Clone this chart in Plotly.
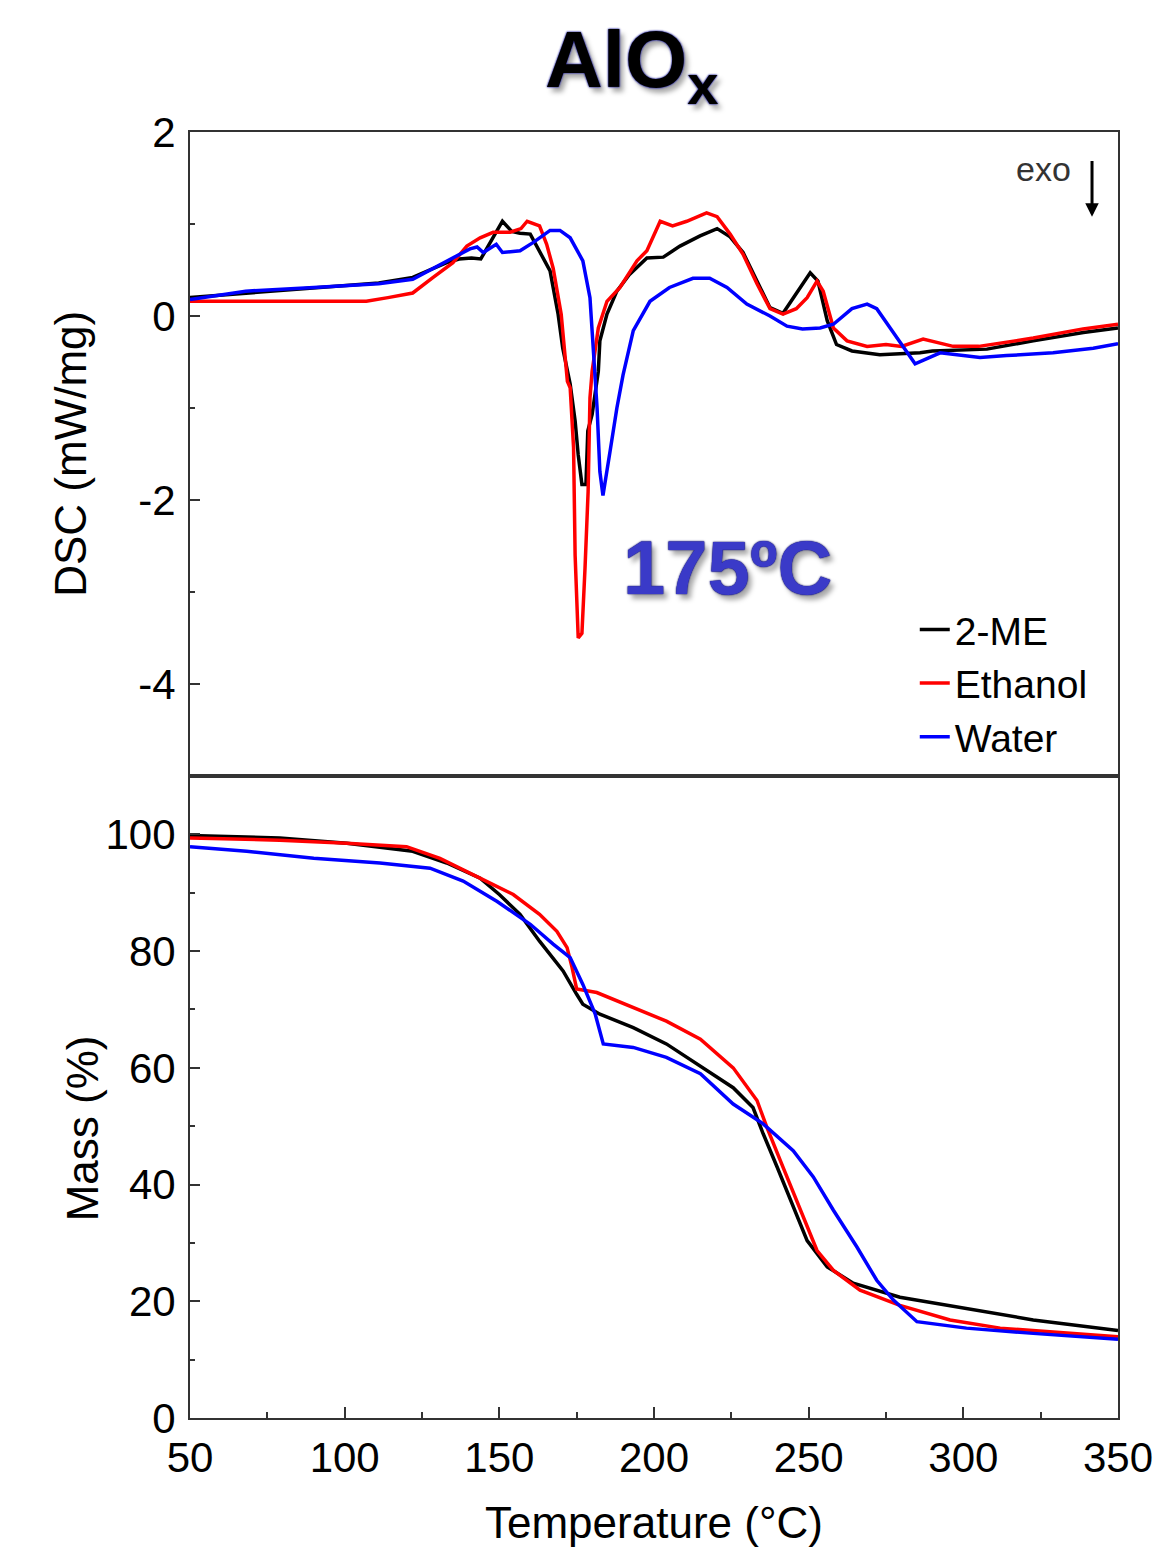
import plotly.graph_objects as go

# ---------------- DATA ----------------
series_names = ["2-ME", "Ethanol", "Water"]
series_colors = ["#000000", "#ff0000", "#0000ff"]

dsc_me_T = [50, 70, 90, 111, 122, 133, 137, 141, 144, 147, 151, 154, 156.7, 160, 163, 166.4, 169, 170.5,
            172.9, 174.5, 175.5, 176.7, 178, 178.6, 180, 182, 182.5, 184.8, 188, 192, 197.7, 203, 208.4,
            214.9, 220.4, 224.6, 228.8, 233.3, 237.5, 241.7, 245, 250.5, 253, 256, 259, 264, 273, 286,
            290, 307.6, 322.6, 338.8, 350]
dsc_me_V = [0.20, 0.25, 0.30, 0.36, 0.42, 0.58, 0.62, 0.63, 0.62, 0.80, 1.03, 0.92, 0.90, 0.89, 0.71, 0.49,
            0.02, -0.35, -0.74, -1.14, -1.51, -1.83, -1.83, -1.25, -1.07, -0.60, -0.27, 0.02, 0.27, 0.45,
            0.63, 0.64, 0.76, 0.87, 0.95, 0.86, 0.69, 0.38, 0.09, 0.03, 0.20, 0.47, 0.38, -0.05, -0.31,
            -0.38, -0.42, -0.40, -0.38, -0.36, -0.27, -0.18, -0.13]

dsc_et_T = [50, 107, 114, 122, 128.6, 135, 139.5, 143.8, 148, 153.5, 157, 159, 163, 165.3, 167.4, 170, 172,
            172.9, 174, 174.5, 175.5, 176.7, 177.7, 178.7, 179.3, 180, 182, 184.8, 189, 194.5, 197.7, 202,
            206, 210.6, 217, 220.4, 224.6, 228.8, 233.3, 237.5, 241.7, 246, 249.5, 252.7, 254.7, 258,
            262.4, 268.9, 275, 280, 287, 296.7, 305, 322.6, 338.7, 350]
dsc_et_V = [0.16, 0.16, 0.20, 0.25, 0.42, 0.58, 0.76, 0.85, 0.91, 0.91, 0.95, 1.03, 0.98, 0.78, 0.52, 0.02,
            -0.71, -0.78, -1.43, -2.6, -3.5, -3.45, -2.74, -1.91, -0.89, -0.60, -0.13, 0.16, 0.31, 0.60,
            0.71, 1.03, 0.98, 1.03, 1.12, 1.08, 0.89, 0.67, 0.35, 0.08, 0.02, 0.08, 0.20, 0.38, 0.27,
            -0.13, -0.27, -0.33, -0.31, -0.33, -0.25, -0.33, -0.33, -0.24, -0.14, -0.09]

dsc_wa_T = [50, 68, 90, 111, 122, 133, 140.5, 142.8, 144.8, 149, 151, 156.7, 161, 166.4, 169.6, 172.9, 177,
            179.3, 181, 181.6, 182.5, 183.5, 185.8, 188, 190, 193.3, 198.7, 205, 212.6, 218, 223.6, 230,
            237.5, 243, 248, 253.7, 258, 264, 268.9, 272, 278.6, 284.4, 292.5, 305.4, 314, 329, 342, 350]
dsc_wa_V = [0.18, 0.27, 0.31, 0.35, 0.40, 0.60, 0.73, 0.75, 0.69, 0.78, 0.69, 0.71, 0.80, 0.93, 0.93, 0.85,
            0.60, 0.20, -0.71, -1.0, -1.69, -1.95, -1.47, -1.0, -0.64, -0.16, 0.16, 0.31, 0.41, 0.41, 0.31,
            0.13, 0.0, -0.11, -0.14, -0.13, -0.09, 0.08, 0.13, 0.08, -0.24, -0.52, -0.40, -0.45, -0.43,
            -0.40, -0.35, -0.30]

tga_me_T = [50, 79, 100.7, 113.7, 122, 133, 143.8, 150, 156.7, 163, 170.6, 175, 177, 182.5, 193.3, 204, 215,
            225.6, 232, 235.3, 239.8, 245, 249.5, 256, 264.4, 279.5, 301, 322.6, 350]
tga_me_V = [99.8, 99.4, 98.5, 97.7, 97.1, 95.1, 92.5, 89.7, 86.3, 81.7, 76.6, 72.6, 70.9, 69.2, 66.9, 64.1,
            60.3, 56.6, 53.2, 48.7, 43.0, 36.1, 30.4, 25.9, 23.1, 20.7, 18.8, 16.8, 15.0]

tga_et_T = [50, 79, 100.7, 120, 130.8, 139.5, 148, 154.5, 163, 168.6, 171.9, 173.5, 175, 181.5, 193.3, 204,
            215, 225.6, 233.3, 236.5, 241.7, 247, 252.7, 258, 266.6, 279.5, 295.7, 311.9, 350]
tga_et_V = [99.4, 99.0, 98.5, 97.9, 95.9, 93.7, 91.4, 89.7, 86.3, 83.4, 80.6, 77.2, 73.5, 72.9, 70.3, 68.0,
            64.9, 60.0, 54.4, 49.8, 43.0, 36.1, 28.7, 25.3, 21.9, 19.3, 16.8, 15.4, 13.9]

tga_wa_T = [50, 68.3, 90, 111.4, 127.6, 138.3, 149.3, 160, 167.4, 172.9, 177, 181, 183.6, 193.3, 204, 215,
            225.6, 235.3, 245, 251.5, 258, 265.6, 272, 277.4, 285, 301, 322.6, 350]
tga_wa_V = [97.9, 97.1, 95.9, 95.1, 94.2, 92.0, 88.5, 84.6, 81.2, 78.9, 74.3, 69.2, 64.1, 63.5, 61.8, 59.0,
            53.8, 50.4, 45.8, 41.3, 35.6, 29.3, 23.6, 20.2, 16.5, 15.4, 14.5, 13.5]

x_ticks = [50, 100, 150, 200, 250, 300, 350]
dsc_ticks = [-4, -2, 0, 2]
dsc_ticktext = ["-4", "-2", "0", "2"]
mass_ticks = [0, 20, 40, 60, 80, 100]

# ---------------- FIGURE ----------------
FONT = "Arial, Liberation Sans, sans-serif"
fig = go.Figure()

dsc = [(dsc_me_T, dsc_me_V), (dsc_et_T, dsc_et_V), (dsc_wa_T, dsc_wa_V)]
tga = [(tga_me_T, tga_me_V), (tga_et_T, tga_et_V), (tga_wa_T, tga_wa_V)]

for (t, v), name, col in zip(dsc, series_names, series_colors):
    fig.add_trace(go.Scatter(x=t, y=v, mode="lines", name=name, line=dict(color=col, width=3.5),
                             xaxis="x2", yaxis="y2", showlegend=True))
for (t, v), name, col in zip(tga, series_names, series_colors):
    fig.add_trace(go.Scatter(x=t, y=v, mode="lines", name=name, line=dict(color=col, width=3.5),
                             xaxis="x", yaxis="y", showlegend=False))

axis_common = dict(showline=True, linecolor="#333333", linewidth=2, mirror=True,
                   showgrid=False, zeroline=False, tickcolor="#333333", tickwidth=2, automargin=False,
                   tickfont=dict(family=FONT, size=42, color="black"))

fig.update_layout(
    width=1157, height=1550,
    margin=dict(l=190, r=39, t=132, b=132, autoexpand=False),
    paper_bgcolor="white", plot_bgcolor="white",
    font=dict(family=FONT, color="black"),
    xaxis=dict(domain=[0, 1], range=[50, 350], tickvals=x_ticks, ticks="inside", ticklen=11,
               ticklabelstandoff=2,
               minor=dict(dtick=25, tick0=50, ticks="inside", ticklen=6, tickcolor="#333333", tickwidth=2),
               anchor="y", **axis_common),
    yaxis=dict(domain=[0, 0.4992], range=[0, 110], tickvals=mass_ticks, ticks="inside", ticklen=10,
               ticklabelstandoff=4,
               minor=dict(dtick=10, tick0=0, ticks="inside", ticklen=5, tickcolor="#333333", tickwidth=2),
               anchor="x", **axis_common),
    xaxis2=dict(domain=[0, 1], range=[50, 350], matches="x", showticklabels=False, ticks="",
                anchor="y2", **axis_common),
    yaxis2=dict(domain=[0.4992, 1], range=[-5, 2], tickvals=dsc_ticks, ticktext=dsc_ticktext,
                ticks="inside", ticklen=10, ticklabelstandoff=4,
                minor=dict(dtick=1, tick0=0, ticks="inside", ticklen=5, tickcolor="#333333", tickwidth=2),
                anchor="x2", **axis_common),
    legend=dict(x=0.781, xanchor="left", y=0.638, yanchor="top", bgcolor="rgba(0,0,0,0)",
                font=dict(family=FONT, size=39, color="black"), tracegroupgap=0),
    showlegend=True,
)

annotations = [
    dict(text="AlO<sub>x</sub>", xref="paper", yref="paper", x=0.476, y=1.052, showarrow=False,
         xanchor="center", yanchor="middle",
         font=dict(family=FONT, size=80, color="black", weight="bold",
                   shadow="0px 0px 2px #2a2aa0, 0px 0px 2px #2a2aa0, 4px 5px 5px #aaaaaa")),
    dict(text="175ºC", xref="x2", yref="y2", x=223.6, y=-2.73, showarrow=False,
         xanchor="center", yanchor="middle",
         font=dict(family=FONT, size=76, color="#3a3ac8", weight="bold",
                   shadow="0px 0px 2px #1a1a70, 0px 0px 1px #1a1a70, 4px 5px 5px #aaaaaa")),
    dict(text="exo", xref="x2", yref="y2", x=326, y=1.60, showarrow=False,
         xanchor="center", yanchor="middle", font=dict(family=FONT, size=34, color="#333333")),
    dict(text="", xref="x2", yref="y2", x=341.6, y=1.08, axref="x2", ayref="y2", ax=341.6, ay=1.70,
         showarrow=True, arrowhead=2, arrowsize=0.9, arrowwidth=3, arrowcolor="black"),
    dict(text="DSC (mW/mg)", xref="paper", yref="paper", x=-0.129, y=0.750, showarrow=False,
         textangle=-90, xanchor="center", yanchor="middle", font=dict(family=FONT, size=44, color="black")),
    dict(text="Mass (%)", xref="paper", yref="paper", x=-0.116, y=0.2255, showarrow=False,
         textangle=-90, xanchor="center", yanchor="middle", font=dict(family=FONT, size=44, color="black")),
    dict(text="Temperature (°C)", xref="paper", yref="paper", x=0.5, y=-0.081, showarrow=False,
         xanchor="center", yanchor="middle", font=dict(family=FONT, size=44, color="black")),
]
fig.update_layout(annotations=annotations)

fig.write_html("out.html", config={"displayModeBar": False},
               post_script="document.body.style.margin='0';document.body.style.overflow='hidden';")
